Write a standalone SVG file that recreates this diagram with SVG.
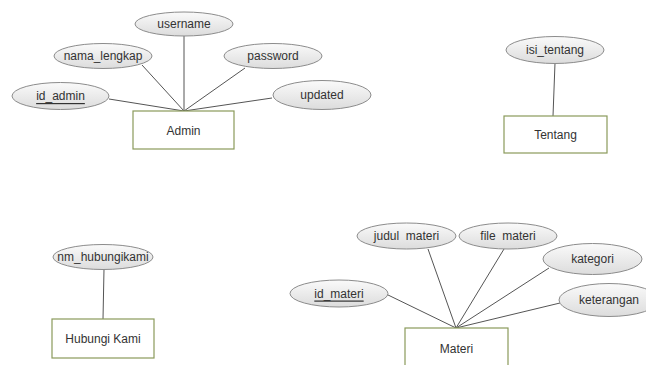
<svg xmlns="http://www.w3.org/2000/svg" width="646" height="365" viewBox="0 0 646 365">
<defs>
<linearGradient id="g" x1="0" y1="0" x2="0" y2="1">
<stop offset="0" stop-color="#fafafa"/>
<stop offset="1" stop-color="#dcdcdc"/>
</linearGradient>
<style>
.attr{fill:url(#g);stroke:#8c8c8c;stroke-width:1}
.ent{fill:#ffffff;stroke:#8a9a5b;stroke-width:1.2}
.t{font-family:"Liberation Sans",Arial,sans-serif;font-size:12px;fill:#333;text-anchor:middle;dominant-baseline:central}
.u{text-decoration:underline}
.c{stroke:#555;stroke-width:1;fill:none}
</style>
</defs>
<rect width="646" height="365" fill="#fff"/>
<g id="connectors">
<line class="c" x1="184" y1="36" x2="184" y2="111"/>
<line class="c" x1="142" y1="65" x2="184" y2="111"/>
<line class="c" x1="245" y1="68" x2="184" y2="111"/>
<line class="c" x1="109" y1="99" x2="184" y2="111"/>
<line class="c" x1="272" y1="98" x2="184" y2="111"/>
<line class="c" x1="555" y1="63" x2="553" y2="116"/>
<line class="c" x1="104" y1="269" x2="103" y2="319"/>
<line class="c" x1="386" y1="294" x2="456" y2="328"/>
<line class="c" x1="428" y1="249" x2="456" y2="328"/>
<line class="c" x1="504" y1="249" x2="456" y2="328"/>
<line class="c" x1="549" y1="268" x2="456" y2="328"/>
<line class="c" x1="560" y1="303" x2="456" y2="328"/>
</g>
<g id="admin"><rect class="ent" x="133" y="111" width="101" height="38"/><text class="t" x="183.5" y="131">Admin</text></g>
<g id="username"><ellipse class="attr" cx="184" cy="24" rx="49" ry="12"/><text class="t" x="184" y="24">username</text></g>
<g id="nama_lengkap"><ellipse class="attr" cx="103" cy="56" rx="49" ry="12.5"/><text class="t" x="103" y="56">nama_lengkap</text></g>
<g id="password"><ellipse class="attr" cx="273" cy="56" rx="49" ry="12.5"/><text class="t" x="273" y="56">password</text></g>
<g id="id_admin"><ellipse class="attr" cx="60.5" cy="96" rx="48.5" ry="13.5"/><text class="t u" x="60.5" y="96">id_admin</text></g>
<g id="updated"><ellipse class="attr" cx="322" cy="95" rx="49" ry="14.5"/><text class="t" x="322" y="95">updated</text></g>
<g id="tentang"><rect class="ent" x="504" y="116" width="103" height="37"/><text class="t" x="555.5" y="134.5">Tentang</text></g>
<g id="isi_tentang"><ellipse class="attr" cx="555" cy="50" rx="49" ry="13.5"/><text class="t" x="555" y="50">isi_tentang</text></g>
<g id="hubungi_kami"><rect class="ent" x="52" y="319" width="102" height="39"/><text class="t" x="103" y="338.5">Hubungi Kami</text></g>
<g id="nm_hubungikami"><ellipse class="attr" cx="103" cy="257" rx="50" ry="12.5"/><text class="t" x="103" y="257">nm_hubungikami</text></g>
<g id="materi"><rect class="ent" x="405" y="328" width="103" height="42"/><text class="t" x="456.5" y="349">Materi</text></g>
<g id="judul_materi"><ellipse class="attr" cx="406.5" cy="236" rx="49.5" ry="13"/><text class="t" x="406.5" y="236" xml:space="preserve">judul  materi</text></g>
<g id="file_materi"><ellipse class="attr" cx="508" cy="236" rx="49" ry="13"/><text class="t" x="508" y="236" xml:space="preserve">file  materi</text></g>
<g id="kategori"><ellipse class="attr" cx="592.5" cy="259" rx="49.5" ry="15.5"/><text class="t" x="592.5" y="259">kategori</text></g>
<g id="id_materi"><ellipse class="attr" cx="339" cy="293.5" rx="49" ry="13.5"/><text class="t u" x="339" y="293.5">id_materi</text></g>
<g id="keterangan"><ellipse class="attr" cx="609" cy="300" rx="50" ry="16.5"/><text class="t" x="609" y="300">keterangan</text></g>
</svg>
